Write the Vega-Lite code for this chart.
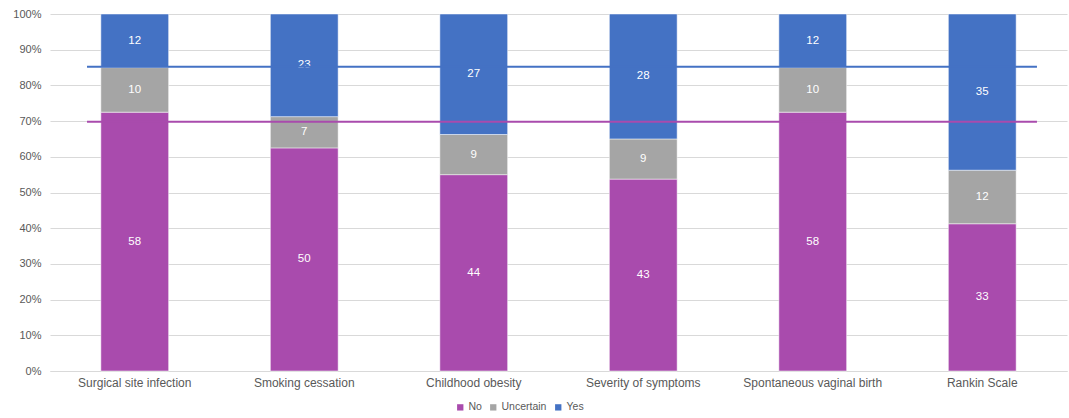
{
  "$schema": "https://vega.github.io/schema/vega-lite/v6.json",
  "width": 1017,
  "height": 357,
  "autosize": {"type": "none"},
  "padding": {"left": 50, "top": 14, "right": 2, "bottom": 47},
  "background": "white",
  "config": {
    "font": "Liberation Sans",
    "view": {"stroke": null},
    "axis": {"labelColor": "#595959", "labelFontSize": 11, "title": null, "ticks": false, "gridColor": "#D9D9D9", "domainColor": "#D9D9D9"},
    "axisY": {"tickCount": 10, "labelOverlap": false, "format": ".0%", "domain": false, "labelPadding": 9}
  },
  "datasets": {
    "bars": [
      {"category": "Surgical site infection", "response": "No", "value": 58},
      {"category": "Surgical site infection", "response": "Uncertain", "value": 10},
      {"category": "Surgical site infection", "response": "Yes", "value": 12},
      {"category": "Smoking cessation", "response": "No", "value": 50},
      {"category": "Smoking cessation", "response": "Uncertain", "value": 7},
      {"category": "Smoking cessation", "response": "Yes", "value": 23},
      {"category": "Childhood obesity", "response": "No", "value": 44},
      {"category": "Childhood obesity", "response": "Uncertain", "value": 9},
      {"category": "Childhood obesity", "response": "Yes", "value": 27},
      {"category": "Severity of symptoms", "response": "No", "value": 43},
      {"category": "Severity of symptoms", "response": "Uncertain", "value": 9},
      {"category": "Severity of symptoms", "response": "Yes", "value": 28},
      {"category": "Spontaneous vaginal birth", "response": "No", "value": 58},
      {"category": "Spontaneous vaginal birth", "response": "Uncertain", "value": 10},
      {"category": "Spontaneous vaginal birth", "response": "Yes", "value": 12},
      {"category": "Rankin Scale", "response": "No", "value": 33},
      {"category": "Rankin Scale", "response": "Uncertain", "value": 12},
      {"category": "Rankin Scale", "response": "Yes", "value": 35}
    ],
    "lines": [
      {"series": "Yes", "level": 0.852, "start": "Surgical site infection", "end": "Rankin Scale"},
      {"series": "No", "level": 0.698, "start": "Surgical site infection", "end": "Rankin Scale"}
    ]
  },
  "layer": [
    {
      "data": {"name": "bars"},
      "transform": [
        {"stack": "value", "groupby": ["category"], "sort": [{"field": "response", "order": "ascending"}], "offset": "normalize", "as": ["y0", "y1"]}
      ],
      "mark": {"type": "bar", "stroke": "white", "strokeWidth": 0.5},
      "encoding": {
        "x": {
          "field": "category", "type": "nominal", "sort": null,
          "scale": {"paddingInner": 0.6, "paddingOuter": 0.3},
          "axis": {"labelAngle": 0, "labelPadding": 6, "labelFontSize": 12, "domain": true, "grid": false}
        },
        "y": {
          "field": "y0", "type": "quantitative",
          "scale": {"domain": [0, 1], "nice": false}
        },
        "y2": {"field": "y1"},
        "color": {
          "field": "response", "type": "nominal",
          "scale": {"domain": ["No", "Uncertain", "Yes"], "range": ["#A94BAD", "#A5A5A5", "#4472C4"]},
          "legend": {
            "title": null, "orient": "none", "direction": "horizontal",
            "legendX": 405, "legendY": 388,
            "symbolType": "square", "symbolSize": 40, "symbolStrokeWidth": 0,
            "labelFontSize": 10.5, "labelColor": "#595959", "labelOffset": 3, "columnPadding": 6
          }
        }
      }
    },
    {
      "data": {"name": "bars"},
      "transform": [
        {"stack": "value", "groupby": ["category"], "sort": [{"field": "response", "order": "ascending"}], "offset": "normalize", "as": ["y0", "y1"]},
        {"calculate": "(datum.y0 + datum.y1) / 2", "as": "mid"}
      ],
      "mark": {"type": "text", "color": "white", "fontSize": 11.5, "baseline": "middle"},
      "encoding": {
        "x": {"field": "category", "type": "nominal", "sort": null},
        "y": {"field": "mid", "type": "quantitative"},
        "text": {"field": "value", "type": "quantitative"}
      }
    },
    {
      "data": {"name": "lines"},
      "mark": {"type": "rule", "strokeWidth": 2},
      "encoding": {
        "x": {"field": "start", "type": "nominal", "sort": null, "bandPosition": -0.204},
        "x2": {"field": "end", "bandPosition": 1.307},
        "y": {"field": "level", "type": "quantitative"},
        "color": {"field": "series", "type": "nominal", "legend": null}
      }
    }
  ]
}
